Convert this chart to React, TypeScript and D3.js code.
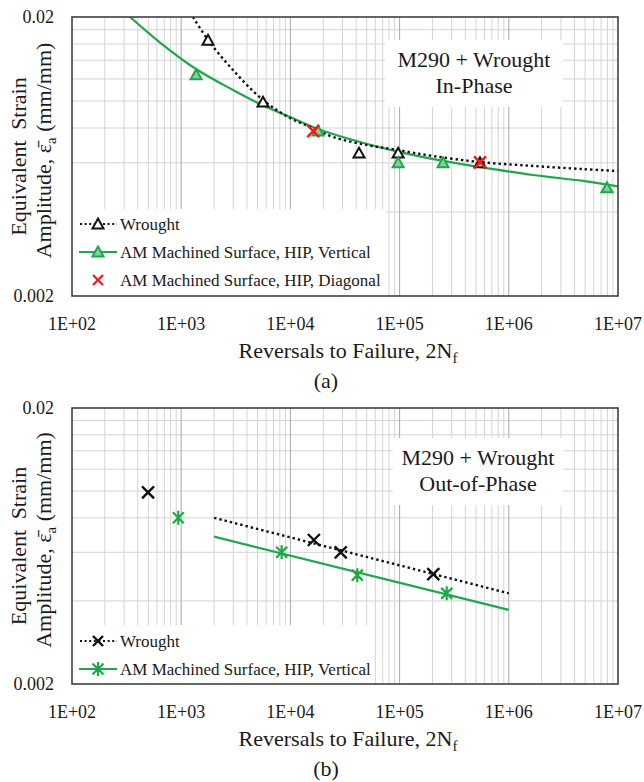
import React, { useEffect, useRef } from 'react'
import * as d3 from 'd3'

// axis ticks
const decades = [1e2, 1e3, 1e4, 1e5, 1e6, 1e7]
const decadeLabels = ['1E+02', '1E+03', '1E+04', '1E+05', '1E+06', '1E+07']
const yTicks = [0.002, 0.02]
const yTickLabels = ['0.002', '0.02']
const yGrid = [0.004, 0.006, 0.008, 0.01, 0.012, 0.014, 0.016, 0.018]

// panel (a) - in-phase
const aWroughtN = [1760, 5610, 42500, 97000, 545000]
const aWroughtStrain = [0.0165, 0.0099, 0.0065, 0.0065, 0.006]
const aVerticalN = [1370, 17900, 97000, 250000, 7930000]
const aVerticalStrain = [0.0124, 0.0078, 0.006, 0.006, 0.00488]
const aDiagonalN = [16200, 545000]
const aDiagonalStrain = [0.0078, 0.00603]
const aWroughtFitN = [1283, 1760, 2980, 5610, 9910, 16100, 24550, 50300, 96700, 202000, 545000, 1666000, 4780000, 1e7]
const aWroughtFitStrain = [0.02, 0.01654, 0.01291, 0.01008, 0.00869, 0.008, 0.00743, 0.00695, 0.00667, 0.00635, 0.00604, 0.00585, 0.0057, 0.00561]
const aVerticalFitN = [340, 640, 1366, 2980, 5270, 9910, 17900, 43400, 100900, 250000, 545000, 1666000, 4780000, 1e7]
const aVerticalFitStrain = [0.02, 0.0162, 0.01302, 0.01095, 0.00976, 0.00876, 0.00794, 0.00713, 0.00656, 0.0061, 0.0058, 0.00543, 0.00517, 0.00494]

// panel (b) - out-of-phase
const bWroughtN = [497, 16400, 28900, 203500]
const bWroughtStrain = [0.0099, 0.00665, 0.006, 0.005]
const bVerticalN = [941, 8320, 41000, 270000]
const bVerticalStrain = [0.008, 0.006, 0.00496, 0.00426]
const bWroughtFitN = [2000, 1e6]
const bWroughtFitStrain = [0.008, 0.00426]
const bVerticalFitN = [2000, 1e6]
const bVerticalFitStrain = [0.00684, 0.00371]

const GREEN = '#1fa84a'
const GREEN_FILL = '#7fd29a'
const RED = '#ff1414'
const FONT = '"Liberation Serif"'
const LEFT = 72
const RIGHT = 618

type Sel = d3.Selection<SVGGElement, unknown, null, undefined>

const zip = (xs: number[], ys: number[]) => xs.map((v, i) => [v, ys[i]] as [number, number])

function label(g: Sel, x: number, y: number, size: number, anchor = 'start') {
  return g.append('text')
    .attr('x', x).attr('y', y)
    .attr('text-anchor', anchor)
    .attr('font-size', size)
    .style('font-family', FONT)
    .attr('fill', '#1a1a1a')
}

function triangle(g: Sel, cx: number, cy: number, stroke: string, fill: string) {
  const s = 5.5
  g.append('path')
    .attr('d', `M${cx},${cy - s} L${cx + s},${cy + s * 0.8} L${cx - s},${cy + s * 0.8} Z`)
    .attr('fill', fill)
    .attr('stroke', stroke)
    .attr('stroke-width', 2)
}

function cross(g: Sel, cx: number, cy: number, color: string, s: number, w: number) {
  g.append('path')
    .attr('d', `M${cx - s},${cy - s} L${cx + s},${cy + s} M${cx - s},${cy + s} L${cx + s},${cy - s}`)
    .attr('stroke', color)
    .attr('stroke-width', w)
    .attr('fill', 'none')
}

function asterisk(g: Sel, cx: number, cy: number) {
  const s = 5.5
  g.append('path')
    .attr('d', `M${cx - s},${cy - s} L${cx + s},${cy + s} M${cx - s},${cy + s} L${cx + s},${cy - s} M${cx},${cy - s - 1.5} L${cx},${cy + s + 1.5}`)
    .attr('stroke', GREEN)
    .attr('stroke-width', 2.2)
    .attr('fill', 'none')
}

function drawPanel(svg: d3.Selection<SVGSVGElement, unknown, null, undefined>, p: any) {
  const x = d3.scaleLog().domain([1e2, 1e7]).range([LEFT, RIGHT])
  const y = d3.scaleLog().domain([0.002, 0.02]).range([p.bottom, p.top])
  const g = svg.append('g') as Sel

  // grid
  const minor: number[] = []
  decades.slice(0, -1).forEach((d) => {
    for (let k = 2; k <= 9; k++) minor.push(k * d)
  })
  g.selectAll(null).data(yGrid).enter().append('line')
    .attr('x1', LEFT).attr('x2', RIGHT)
    .attr('y1', (d) => y(d)).attr('y2', (d) => y(d))
    .attr('stroke', '#d4d4d4').attr('stroke-width', 1)
  g.selectAll(null).data(minor).enter().append('line')
    .attr('x1', (d) => x(d)).attr('x2', (d) => x(d))
    .attr('y1', p.top).attr('y2', p.bottom)
    .attr('stroke', '#d4d4d4').attr('stroke-width', 1)
  g.selectAll(null).data(decades.slice(1, -1)).enter().append('line')
    .attr('x1', (d) => x(d)).attr('x2', (d) => x(d))
    .attr('y1', p.top).attr('y2', p.bottom)
    .attr('stroke', '#a8a8a8').attr('stroke-width', 1)

  // white boxes for legend and title
  g.append('rect').attr('x', LEFT).attr('y', p.legendTop)
    .attr('width', p.legendRight - LEFT).attr('height', p.bottom - p.legendTop).attr('fill', '#fff')
  g.append('rect').attr('x', p.noteBox[0]).attr('y', p.noteBox[1])
    .attr('width', p.noteBox[2] - p.noteBox[0]).attr('height', p.noteBox[3] - p.noteBox[1]).attr('fill', '#fff')

  // fit curves
  const clipId = `clip-${p.id}`
  svg.append('clipPath').attr('id', clipId).append('rect')
    .attr('x', LEFT).attr('y', p.top).attr('width', RIGHT - LEFT).attr('height', p.bottom - p.top)
  const line = d3.line<[number, number]>()
    .x((d) => x(d[0]))
    .y((d) => y(d[1]))
    .curve(d3.curveCatmullRom.alpha(0.5))
  g.append('path').attr('clip-path', `url(#${clipId})`)
    .attr('d', line(zip(p.vFitN, p.vFitS)))
    .attr('fill', 'none').attr('stroke', GREEN).attr('stroke-width', 2.2)
  g.append('path').attr('clip-path', `url(#${clipId})`)
    .attr('d', line(zip(p.wFitN, p.wFitS)))
    .attr('fill', 'none').attr('stroke', '#111').attr('stroke-width', 2.4)
    .attr('stroke-dasharray', '2.4 3')

  // points
  zip(p.wN, p.wS).forEach(([n, s]) => {
    if (p.id === 'a') triangle(g, x(n), y(s), '#111', '#fff')
    else cross(g, x(n), y(s), '#111', 6, 2.4)
  })
  zip(p.vN, p.vS).forEach(([n, s]) => {
    if (p.id === 'a') triangle(g, x(n), y(s), GREEN, GREEN_FILL)
    else asterisk(g, x(n), y(s))
  })
  if (p.dN) {
    zip(p.dN, p.dS).forEach(([n, s]) => cross(g, x(n), y(s), RED, 6, 2.4))
  }

  // frame
  g.append('rect').attr('x', LEFT).attr('y', p.top)
    .attr('width', RIGHT - LEFT).attr('height', p.bottom - p.top)
    .attr('fill', 'none').attr('stroke', '#404040').attr('stroke-width', 1.6)

  // ticks
  decades.forEach((d, i) => label(g, x(d), p.bottom + 34, 18, 'middle').text(decadeLabels[i]))
  yTicks.forEach((d, i) => label(g, 54, y(d) + 6, 18, 'end').text(yTickLabels[i]))

  // axis titles
  const xt = label(g, 348, p.bottom + 62, 22, 'middle')
  xt.append('tspan').text('Reversals to Failure, 2N')
  xt.append('tspan').attr('font-size', 15).attr('dy', 5).text('f')
  label(g, 326, p.bottom + 92, 22, 'middle').text(p.label)

  const cy = (p.top + p.bottom) / 2
  label(g, 0, 0, 22, 'middle').attr('transform', `translate(26,${cy}) rotate(-90)`)
    .attr('word-spacing', 5)
    .text('Equivalent Strain')
  const yt = label(g, 0, 0, 22, 'middle').attr('transform', `translate(51,${cy - 6}) rotate(-90)`)
  yt.append('tspan').text('Amplitude, ε\u0304')
  yt.append('tspan').attr('font-size', 15).attr('dy', 5).text('a')
  yt.append('tspan').attr('dy', -5).text(' (mm/mm)')

  // note
  const nx = (p.noteBox[0] + p.noteBox[2]) / 2
  label(g, nx, p.noteBox[1] + 27, 22, 'middle').text('M290 + Wrought')
  label(g, nx, p.noteBox[1] + 53, 22, 'middle').text(p.note)

  // legend
  p.legend.forEach((item: any, i: number) => {
    const ly = p.legendRows[i]
    if (item.kind === 'wt' || item.kind === 'wx') {
      g.append('line').attr('x1', 80).attr('x2', 117).attr('y1', ly).attr('y2', ly)
        .attr('stroke', '#111').attr('stroke-width', 2.2).attr('stroke-dasharray', '2 2.6')
      if (item.kind === 'wt') triangle(g, 98, ly, '#111', '#fff')
      else cross(g, 98, ly, '#111', 5, 2.4)
    } else if (item.kind === 'vt' || item.kind === 'va') {
      g.append('line').attr('x1', 79).attr('x2', 117).attr('y1', ly).attr('y2', ly)
        .attr('stroke', GREEN).attr('stroke-width', 2.2)
      if (item.kind === 'vt') triangle(g, 98, ly, GREEN, GREEN_FILL)
      else asterisk(g, 98, ly)
    } else {
      cross(g, 98, ly, RED, 5, 2.2)
    }
    label(g, 120, ly + 6, 17).text(item.name)
  })
}

export default function App() {
  const ref = useRef<SVGSVGElement>(null)

  useEffect(() => {
    const svg = d3.select(ref.current as SVGSVGElement)
    svg.selectAll('*').remove()
    drawPanel(svg, {
      id: 'a', top: 17, bottom: 296, label: '(a)', note: 'In-Phase',
      noteBox: [385, 40, 563, 107], legendTop: 209, legendRight: 386,
      legendRows: [224, 252, 280],
      wN: aWroughtN, wS: aWroughtStrain, vN: aVerticalN, vS: aVerticalStrain,
      dN: aDiagonalN, dS: aDiagonalStrain,
      wFitN: aWroughtFitN, wFitS: aWroughtFitStrain, vFitN: aVerticalFitN, vFitS: aVerticalFitStrain,
      legend: [
        { kind: 'wt', name: 'Wrought' },
        { kind: 'vt', name: 'AM Machined Surface, HIP, Vertical' },
        { kind: 'dx', name: 'AM Machined Surface, HIP, Diagonal' },
      ],
    })
    drawPanel(svg, {
      id: 'b', top: 408, bottom: 684, label: '(b)', note: 'Out-of-Phase',
      noteBox: [393, 438, 563, 505], legendTop: 625, legendRight: 373,
      legendRows: [641, 669],
      wN: bWroughtN, wS: bWroughtStrain, vN: bVerticalN, vS: bVerticalStrain,
      wFitN: bWroughtFitN, wFitS: bWroughtFitStrain, vFitN: bVerticalFitN, vFitS: bVerticalFitStrain,
      legend: [
        { kind: 'wx', name: 'Wrought' },
        { kind: 'va', name: 'AM Machined Surface, HIP, Vertical' },
      ],
    })
  }, [])

  return (
    <svg
      ref={ref}
      width={644}
      height={782}
      style={{ position: 'absolute', left: 0, top: 0, background: '#fff', fontFamily: FONT }}
    />
  )
}
